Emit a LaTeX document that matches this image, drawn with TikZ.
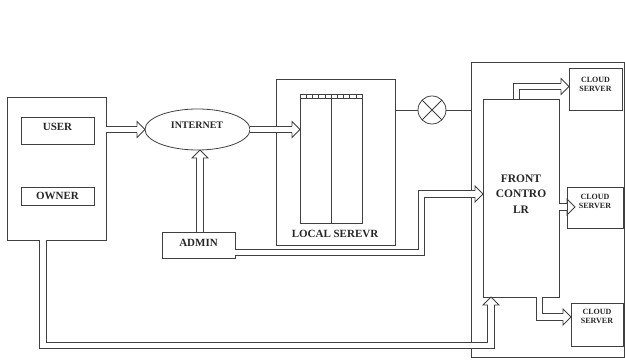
\documentclass[tikz,border=0pt]{standalone}
\usepackage{fontspec}
\setmainfont{Liberation Serif}
\usetikzlibrary{shapes.geometric}
\begin{document}
\begin{tikzpicture}[x=1pt,y=-1pt,
  lc/.style={draw=black!75, line width=0.8pt},
  box/.style={lc, rectangle, inner sep=0pt, outer sep=0pt},
  lbl/.style={font=\bfseries\fontsize{11}{13}\selectfont, text=black!85, align=center},
  small/.style={font=\bfseries\fontsize{8}{9}\selectfont, text=black!85, align=center},
  pipe/.style={draw=black!75, line width=0.8pt, double=white, double distance=5.6pt, shorten >=8pt},
  headR/.pic={\draw[black!75, line width=0.8pt, line join=miter]
     (-8,3.2) -- (-8,8) -- (0,0) -- (-8,-8) -- (-8,-3.2);}
]
\useasboundingbox (0,0) rectangle (625,363);

% client side
\node[box, minimum width=99pt, minimum height=143pt] (leftbox) at (56.5,168.5) {};
\node[box, minimum width=73pt, minimum height=27pt] (user) at (57.5,130.5) {};
\node[lbl] (usertext) at (57.5,127) {USER};
\node[box, minimum width=73pt, minimum height=18pt, lbl] (owner) at (57.5,196) {OWNER};

% internet and admin
\node[lc, ellipse, minimum width=105pt, minimum height=41pt, inner sep=0pt, outer sep=0pt] (inet) at (197.5,129.5) {};
\node[font=\bfseries\fontsize{10}{12}\selectfont, text=black!85] (inettext) at (197,125) {INTERNET};
\node[box, minimum width=73pt, minimum height=26pt] (admin) at (198.5,245) {};
\node[lbl] (admintext) at (198.5,242.5) {ADMIN};

% local server with its rack
\node[box, minimum width=119pt, minimum height=166pt] (lsrv) at (335.5,162) {};
\node[box, minimum width=62pt, minimum height=129pt] (rack) at (331,158.5) {};
\node[lbl] (lsrvtext) at (335,234) {LOCAL SEREVR};
\draw[lc] (rack.north west) ++(0,4) -- ++(62,0);
\foreach \i in {1,...,9}
  \draw[lc, line width=0.5pt] (rack.north west) ++(\i*6.2,0) -- ++(0,4);
\draw[lc] (rack.north) -- (rack.south);

% crossed circle between local server and cloud side
\node[lc, circle, minimum size=28pt, inner sep=0pt, outer sep=0pt] (xc) at (432,110) {};
\draw[lc] (xc.north west) -- (xc.south east);
\draw[lc] (xc.north east) -- (xc.south west);

% cloud side
\node[box, minimum width=153pt, minimum height=295pt] (rbox) at (547.5,209.5) {};
\node[box, minimum width=76pt, minimum height=198pt] (fc) at (521,198) {};
\node[font=\bfseries\fontsize{11.5}{15.5}\selectfont, text=black!85, align=center] (fctext) at (521,194) {FRONT\\CONTRO\\LR};
\node[box, minimum width=53pt, minimum height=42pt] (cs1) at (595.5,89) {};
\node[small] (cs1text) at (595.5,84.5) {CLOUD\\SERVER};
\node[box, minimum width=56pt, minimum height=41pt] (cs2) at (595,207.5) {};
\node[small] (cs2text) at (595,201) {CLOUD\\SERVER};
\node[box, minimum width=52pt, minimum height=43pt] (cs3) at (597,324.5) {};
\node[small] (cs3text) at (597,316.5) {CLOUD\\SERVER};

% single connectors
\draw[lc] (lsrv.east |- xc) -- (xc.west);
\draw[lc] (xc.east) -- (rbox.west |- xc);

% double-line arrows
\draw[pipe] (leftbox.east |- inet.west) -- (inet.west);
\pic at (inet.west) {headR};

\draw[pipe] (inet.east) -- (rack.west |- inet.east);
\pic at (rack.west |- inet.east) {headR};

\coordinate (a0) at (200,0);
\draw[pipe] (a0 |- admin.north) -- (a0 |- inet.south);
\pic[rotate=90] at (a0 |- inet.south) {headR};

\coordinate (k2a) at (421.5,252.5);
\coordinate (k2) at (421.5,194);
\draw[pipe] (k2a -| admin.east) -- (k2a) -- (k2) -- (k2 -| fc.west);
\pic at (k2 -| fc.west) {headR};

\coordinate (k3) at (43,345.5);
\coordinate (k3b) at (491,345.5);
\draw[pipe] (k3 |- leftbox.south) -- (k3) -- (k3b) -- (k3b |- fc.south);
\pic[rotate=90] at (k3b |- fc.south) {headR};

\coordinate (k1) at (516.5,86.5);
\draw[pipe] (k1 |- fc.north) -- (k1) -- (k1 -| cs1.west);
\pic at (k1 -| cs1.west) {headR};

\coordinate (k5) at (575,207);
\draw[pipe] (k5 -| fc.east) -- (k5);
\pic at (k5) {headR};

\coordinate (k4) at (539.5,317);
\draw[pipe] (k4 |- fc.south) -- (k4) -- (k4 -| cs3.west);
\pic at (k4 -| cs3.west) {headR};
\end{tikzpicture}
\end{document}
